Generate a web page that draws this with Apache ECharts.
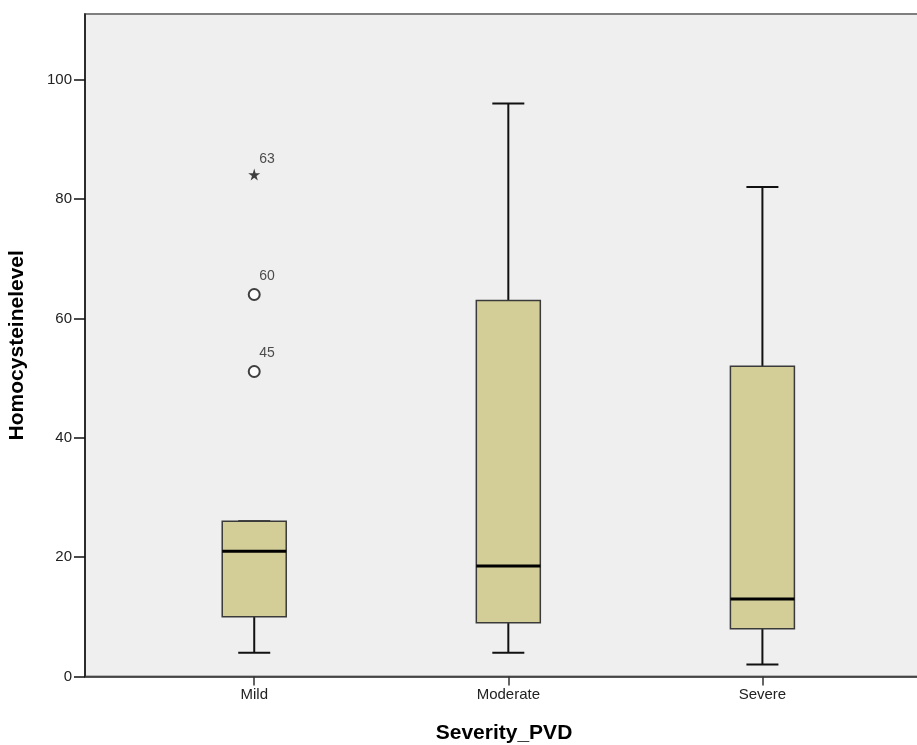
<!DOCTYPE html>
<html>
<head>
<meta charset="utf-8">
<script src="https://cdn.jsdelivr.net/npm/echarts@6/dist/echarts.min.js"></script>
<style>html,body{margin:0;padding:0;background:#fff}#c{width:917px;height:745px}</style>
</head>
<body>
<div id="c"></div>
<script>
// ---- data ----
const categories = ['Mild', 'Moderate', 'Severe'];
const whiskerLow = [4, 4, 2];
const q1Values = [10, 9, 8];
const medianValues = [21, 18.5, 13];
const q3Values = [26, 63, 52];
const whiskerHigh = [26, 96, 82];
const outlierCategory = [0, 0, 0];
const outlierValues = [51.1, 64.0, 84.1];
const outlierIds = ['45', '60', '63'];
const outlierExtreme = [false, false, true];
const yTicks = [0, 20, 40, 60, 80, 100];

// ---- build ----
const boxData = categories.map((c, i) => [i + 1, whiskerLow[i], q1Values[i], medianValues[i], q3Values[i], whiskerHigh[i]]);
const STAR = 'path://M50,0 L61,35 L98,35 L68,57 L79,91 L50,70 L21,91 L32,57 L2,35 L39,35 Z';
const outData = outlierValues.map((v, i) => ({
  value: [outlierCategory[i] + 1, v, outlierIds[i]],
  symbol: outlierExtreme[i] ? STAR : 'emptyCircle',
  symbolSize: outlierExtreme[i] ? 12 : 11,
  itemStyle: outlierExtreme[i] ? {color: '#111', borderWidth: 0} : {color: '#111', borderColor: '#111', borderWidth: 1.3},
  label: {position: outlierExtreme[i] ? [11, -16] : [11.5, -19]}
}));

const BOX_HALF = 32, CAP_HALF = 16;
const chart = echarts.init(document.getElementById('c'), null, {renderer: 'canvas'});
chart.setOption({
  animation: false,
  backgroundColor: '#ffffff',
  grid: {left: 85, right: -6, top: 14, bottom: 68.5, outerBoundsMode: 'none', containLabel: false,
    show: true, backgroundColor: '#EFEFEF', borderColor: '#7f7f7f', borderWidth: 2},
  xAxis: {
    type: 'value', min: 0.334, max: 3.632,
    name: 'Severity_PVD', nameLocation: 'middle', nameGap: 46,
    nameTextStyle: {fontFamily: 'Liberation Sans', fontWeight: 'bold', fontSize: 21, color: '#000'},
    splitLine: {show: false},
    axisLine: {show: true, onZero: false, lineStyle: {color: '#333', width: 1.5}},
    axisTick: {show: true, length: 9, customValues: [1, 2, 3], lineStyle: {color: '#333', width: 1.5}},
    axisLabel: {customValues: [1, 2, 3], margin: 11, fontFamily: 'Liberation Sans', fontSize: 15, color: '#222',
      formatter: v => categories[Math.round(v) - 1] || ''}
  },
  yAxis: {
    type: 'value', min: 0, max: 111,
    name: 'Homocysteinelevel', nameLocation: 'middle', nameGap: 57,
    nameTextStyle: {fontFamily: 'Liberation Sans', fontWeight: 'bold', fontSize: 21, color: '#000'},
    splitLine: {show: false},
    axisLine: {show: true, lineStyle: {color: '#111', width: 1.5}},
    axisTick: {show: true, length: 11, customValues: yTicks, lineStyle: {color: '#111', width: 1.5}},
    axisLabel: {customValues: yTicks, margin: 13, fontFamily: 'Liberation Sans', fontSize: 15, color: '#222'}
  },
  series: [{
    type: 'custom',
    data: boxData,
    renderItem: function (params, api) {
      const x = api.value(0);
      const c = v => api.coord([x, v]);
      const pLo = c(api.value(1)), pQ1 = c(api.value(2)), pMd = c(api.value(3)), pQ3 = c(api.value(4)), pHi = c(api.value(5));
      const cx = pLo[0];
      const lineStyle = {stroke: '#111', lineWidth: 2};
      return {
        type: 'group',
        children: [
          {type: 'line', shape: {x1: cx, y1: pLo[1], x2: cx, y2: pQ1[1]}, style: lineStyle},
          {type: 'line', shape: {x1: cx, y1: pQ3[1], x2: cx, y2: pHi[1]}, style: lineStyle},
          {type: 'line', shape: {x1: cx - CAP_HALF, y1: pLo[1], x2: cx + CAP_HALF, y2: pLo[1]}, style: lineStyle},
          {type: 'line', shape: {x1: cx - CAP_HALF, y1: pHi[1], x2: cx + CAP_HALF, y2: pHi[1]}, style: lineStyle},
          {type: 'rect', shape: {x: cx - BOX_HALF, y: pQ3[1], width: BOX_HALF * 2, height: pQ1[1] - pQ3[1]},
            style: {fill: '#D3CE97', stroke: '#3a3a3a', lineWidth: 1.5}},
          {type: 'line', shape: {x1: cx - BOX_HALF, y1: pMd[1], x2: cx + BOX_HALF, y2: pMd[1]}, style: {stroke: '#000', lineWidth: 3}}
        ]
      };
    }
  }, {
    type: 'scatter',
    data: outData,
    label: {show: true, formatter: p => p.value[2], fontFamily: 'Liberation Sans', fontSize: 14, color: '#222'}
  }]
});
</script>
</body>
</html>
